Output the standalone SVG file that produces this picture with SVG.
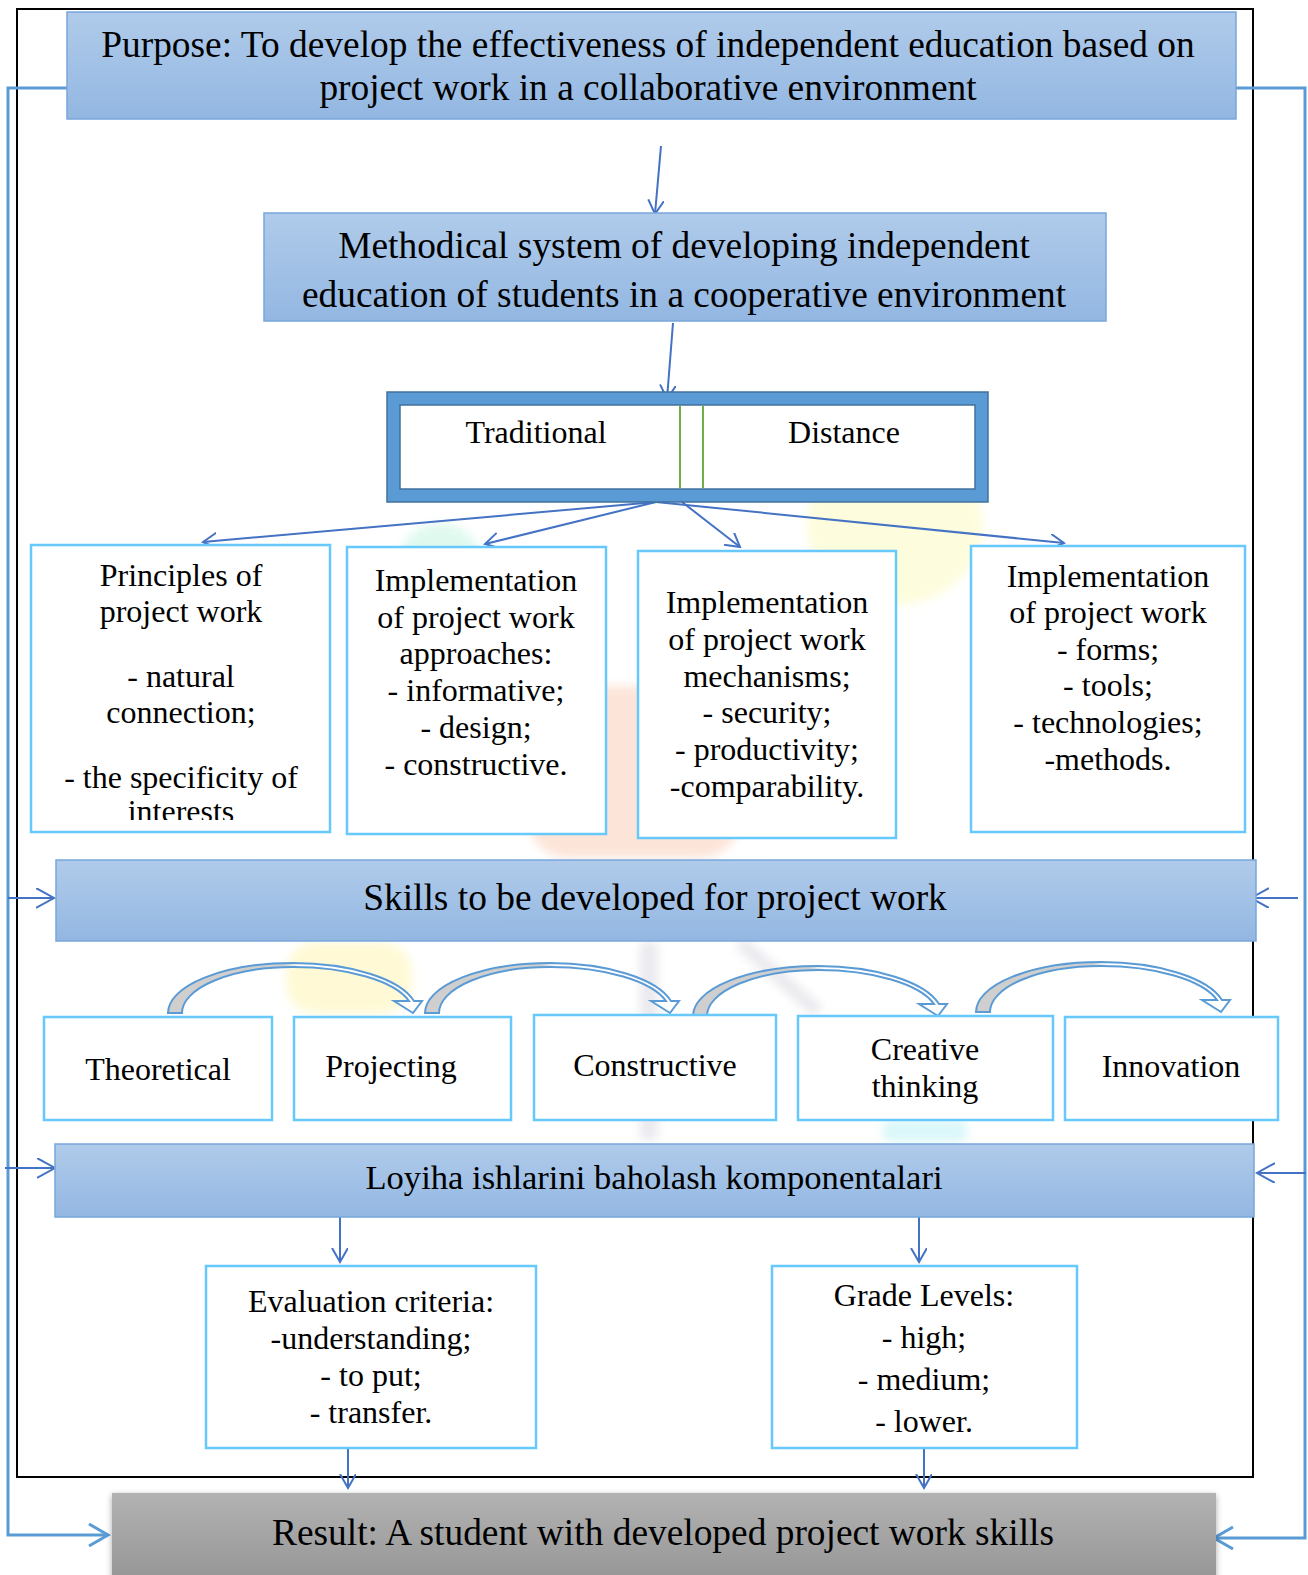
<svg xmlns="http://www.w3.org/2000/svg" width="1308" height="1575" viewBox="0 0 1308 1575">
<style>
  text { font-family: "Liberation Serif", "Times New Roman", serif; fill: #000; text-anchor: middle; }
  .big { font-size: 37.4px; }
  .mid { font-size: 34.6px; }
  .sm { font-size: 32px; }
  .hdr { fill: url(#blueGrad); stroke: #78a6dc; stroke-width: 1.5; }
  .lb { fill: #fff; stroke: #66c8fb; stroke-width: 2.5; }
  .con { fill: none; stroke: #4472c4; stroke-width: 2; }
  .fb { fill: none; stroke: #5b9bd5; stroke-width: 3; }
  .curv { fill: url(#curvGrad); stroke: #5b9bd5; stroke-width: 2; stroke-linejoin: miter; }
</style>
<defs>
  <linearGradient id="blueGrad" x1="0" y1="0" x2="0" y2="1">
    <stop offset="0" stop-color="#b0cbea"/>
    <stop offset="1" stop-color="#93b7e2"/>
  </linearGradient>
  <linearGradient id="grayGrad" x1="0" y1="0" x2="0" y2="1">
    <stop offset="0" stop-color="#b2b2b2"/>
    <stop offset="1" stop-color="#929292"/>
  </linearGradient>
  <linearGradient id="curvGrad" x1="0" y1="0" x2="1" y2="0">
    <stop offset="0" stop-color="#cfcfcf"/>
    <stop offset="0.46" stop-color="#cfcfcf"/>
    <stop offset="0.52" stop-color="#ffffff"/>
    <stop offset="1" stop-color="#ffffff"/>
  </linearGradient>
  <marker id="ah" markerUnits="userSpaceOnUse" markerWidth="20" markerHeight="20" refX="14" refY="8" orient="auto">
    <path d="M0,0 L14,8 L0,16" fill="none" stroke="#4472c4" stroke-width="2"/>
  </marker>
  <marker id="ahb" markerUnits="userSpaceOnUse" markerWidth="24" markerHeight="28" refX="20" refY="12" orient="auto">
    <path d="M1,1 L20,12 L1,23" fill="none" stroke="#5b9bd5" stroke-width="3"/>
  </marker>
  <marker id="ahs" markerUnits="userSpaceOnUse" markerWidth="22" markerHeight="24" refX="18" refY="10" orient="auto">
    <path d="M0,0 L18,10 L0,20" fill="none" stroke="#4472c4" stroke-width="2"/>
  </marker>
  <path id="curved" d="M0,0 A125,50 0 0 1 125,-50 A125,50 0 0 1 246,-12 L254,-12 L245,0 L226,-12 L241,-12 A120,46 0 0 0 125,-46 A111,46 0 0 0 14,0 Z"/>
  <clipPath id="clipP"><rect x="31" y="545" width="299" height="275"/></clipPath>
  <filter id="shadow" x="-5%" y="-20%" width="110%" height="140%">
    <feDropShadow dx="0" dy="2" stdDeviation="3" flood-color="#000" flood-opacity="0.35"/>
  </filter>
  <filter id="soft" x="-20%" y="-20%" width="140%" height="140%">
    <feGaussianBlur stdDeviation="5"/>
  </filter>
</defs>

<rect width="1308" height="1575" fill="#fff"/>

<g id="watermark" opacity="0.75" filter="url(#soft)">
  <circle cx="440" cy="565" r="42" fill="#d6f8ea"/>
  <ellipse cx="895" cy="525" rx="88" ry="80" fill="#fdfcd2"/>
  <rect x="528" y="686" width="212" height="172" rx="40" fill="#fcdccc"/>
  <rect x="286" y="942" width="126" height="72" rx="30" fill="#fff8c8"/>
  <rect x="640" y="942" width="18" height="198" fill="#e4e2e8"/>
  <line x1="740" y1="942" x2="818" y2="1012" stroke="#e4e2e8" stroke-width="14"/>
  <rect x="882" y="1120" width="86" height="22" rx="10" fill="#cff5f8"/>
</g>

<rect id="frame" x="17" y="9" width="1236" height="1468" fill="none" stroke="#000" stroke-width="2"/>

<g id="connectors">
  <polyline class="fb" points="67,88 8,88 8,1535 108,1535" marker-end="url(#ahb)"/>
  <polyline class="fb" points="1236,88 1305,88 1305,1538 1214,1538" marker-end="url(#ahb)"/>
  <line class="con" x1="8" y1="898" x2="54" y2="898" marker-end="url(#ahs)"/>
  <line class="con" x1="5" y1="1168" x2="55" y2="1168" marker-end="url(#ahs)"/>
  <line class="con" x1="1298" y1="898" x2="1251" y2="898" marker-end="url(#ahs)"/>
  <line class="con" x1="1306" y1="1173" x2="1257" y2="1173" marker-end="url(#ahs)"/>
  <line class="con" x1="661" y1="146" x2="655" y2="214" marker-end="url(#ah)"/>
  <line class="con" x1="673" y1="323" x2="667" y2="399" marker-end="url(#ah)"/>
  <line class="con" x1="656" y1="502" x2="203" y2="542" marker-end="url(#ah)"/>
  <line class="con" x1="656" y1="502" x2="485" y2="544" marker-end="url(#ah)"/>
  <line class="con" x1="682" y1="502" x2="740" y2="547" marker-end="url(#ah)"/>
  <line class="con" x1="656" y1="502" x2="1064" y2="543" marker-end="url(#ah)"/>
  <line class="con" x1="340" y1="1217" x2="340" y2="1262" marker-end="url(#ah)"/>
  <line class="con" x1="919" y1="1217" x2="919" y2="1262" marker-end="url(#ah)"/>
  <line class="con" x1="348" y1="1448" x2="348" y2="1488" marker-end="url(#ah)"/>
  <line class="con" x1="924" y1="1448" x2="924" y2="1488" marker-end="url(#ah)"/>
  <use href="#curved" class="curv" transform="translate(168,1013)"/>
  <use href="#curved" class="curv" transform="translate(425,1013)"/>
  <use href="#curved" class="curv" transform="translate(693,1016)"/>
  <use href="#curved" class="curv" transform="translate(976,1012)"/>
</g>

<g id="purpose">
  <rect class="hdr" x="67" y="12" width="1169" height="107"/>
  <text class="big" x="648" y="57">Purpose: To develop the effectiveness of independent education based on</text>
  <text class="big" x="648" y="100">project work in a collaborative environment</text>
</g>

<g id="methodical">
  <rect class="hdr" x="264" y="213" width="842" height="108"/>
  <text class="big" x="684" y="258">Methodical system of developing independent</text>
  <text class="big" x="684" y="307">education of students in a cooperative environment</text>
</g>

<g id="modes">
  <rect x="387" y="392" width="601" height="110" fill="#5b9bd5" stroke="#41719c" stroke-width="1.5"/>
  <rect x="400" y="405" width="575" height="84" fill="#fff" stroke="#41719c" stroke-width="1.5"/>
  <line x1="680" y1="406" x2="680" y2="488" stroke="#70ad47" stroke-width="2"/>
  <line x1="703" y1="406" x2="703" y2="488" stroke="#70ad47" stroke-width="2"/>
  <text class="sm" x="536" y="443">Traditional</text>
  <text class="sm" x="844" y="443">Distance</text>
</g>

<g id="principles">
  <rect class="lb" x="31" y="545" width="299" height="287"/>
  <g clip-path="url(#clipP)">
    <text class="sm" x="181" y="586">Principles of</text>
    <text class="sm" x="181" y="622">project work</text>
    <text class="sm" x="181" y="687">- natural</text>
    <text class="sm" x="181" y="723">connection;</text>
    <text class="sm" x="181" y="788">- the specificity of</text>
    <text class="sm" x="181" y="822">interests</text>
  </g>
</g>

<g id="approaches">
  <rect class="lb" x="347" y="547" width="259" height="287"/>
  <text class="sm" x="476" y="591">Implementation</text>
  <text class="sm" x="476" y="628">of project work</text>
  <text class="sm" x="476" y="664">approaches:</text>
  <text class="sm" x="476" y="701">- informative;</text>
  <text class="sm" x="476" y="738">- design;</text>
  <text class="sm" x="476" y="775">- constructive.</text>
</g>

<g id="mechanisms">
  <rect class="lb" x="638" y="551" width="258" height="287"/>
  <text class="sm" x="767" y="613">Implementation</text>
  <text class="sm" x="767" y="650">of project work</text>
  <text class="sm" x="767" y="687">mechanisms;</text>
  <text class="sm" x="767" y="723">- security;</text>
  <text class="sm" x="767" y="760">- productivity;</text>
  <text class="sm" x="767" y="797">-comparability.</text>
</g>

<g id="forms">
  <rect class="lb" x="971" y="546" width="274" height="286"/>
  <text class="sm" x="1108" y="587">Implementation</text>
  <text class="sm" x="1108" y="623">of project work</text>
  <text class="sm" x="1108" y="660">- forms;</text>
  <text class="sm" x="1108" y="696">- tools;</text>
  <text class="sm" x="1108" y="733">- technologies;</text>
  <text class="sm" x="1108" y="770">-methods.</text>
</g>

<g id="skills">
  <rect class="hdr" x="56" y="860" width="1200" height="81"/>
  <text class="big" x="655" y="910">Skills to be developed for project work</text>
</g>

<g id="theoretical">
  <rect class="lb" x="44" y="1017" width="228" height="103"/>
  <text class="sm" x="158" y="1080">Theoretical</text>
</g>
<g id="projecting">
  <rect class="lb" x="294" y="1017" width="217" height="103"/>
  <text class="sm" x="391" y="1077">Projecting</text>
</g>
<g id="constructive">
  <rect class="lb" x="534" y="1015" width="242" height="105"/>
  <text class="sm" x="655" y="1076">Constructive</text>
</g>
<g id="creative">
  <rect class="lb" x="798" y="1016" width="255" height="104"/>
  <text class="sm" x="925" y="1060">Creative</text>
  <text class="sm" x="925" y="1097">thinking</text>
</g>
<g id="innovation">
  <rect class="lb" x="1065" y="1017" width="213" height="103"/>
  <text class="sm" x="1171" y="1077">Innovation</text>
</g>

<g id="loyiha">
  <rect class="hdr" x="55" y="1144" width="1199" height="73"/>
  <text class="mid" x="654" y="1189">Loyiha ishlarini baholash komponentalari</text>
</g>

<g id="evaluation">
  <rect class="lb" x="206" y="1266" width="330" height="182"/>
  <text class="sm" x="371" y="1312">Evaluation criteria:</text>
  <text class="sm" x="371" y="1349">-understanding;</text>
  <text class="sm" x="371" y="1386">- to put;</text>
  <text class="sm" x="371" y="1423">- transfer.</text>
</g>

<g id="grades">
  <rect class="lb" x="772" y="1266" width="305" height="182"/>
  <text class="sm" x="924" y="1306">Grade Levels:</text>
  <text class="sm" x="924" y="1348">- high;</text>
  <text class="sm" x="924" y="1390">- medium;</text>
  <text class="sm" x="924" y="1432">- lower.</text>
</g>

<g id="result">
  <rect x="112" y="1493" width="1104" height="100" fill="url(#grayGrad)" filter="url(#shadow)"/>
  <text class="big" x="663" y="1545">Result: A student with developed project work skills</text>
</g>
</svg>
